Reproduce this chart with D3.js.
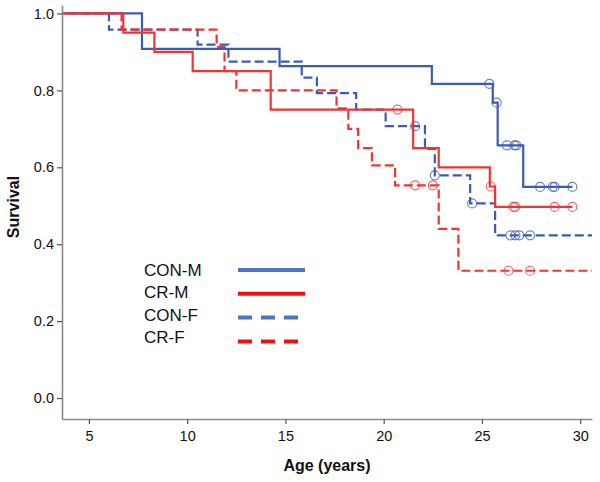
<!DOCTYPE html>
<html>
<head>
<meta charset="utf-8">
<script src="https://cdn.jsdelivr.net/npm/d3@7"></script>
<style>
  body { margin: 0; background: #fff; }
  svg { display: block; font-family: "Liberation Sans", Arial, sans-serif; }
</style>
</head>
<body>
<svg id="chart" width="600" height="482"></svg>
<script>
// Kaplan-Meier steps: event times and survival after each step
const conM_time = [0, 7.7, 14.7, 22.45, 25.55, 25.8, 27.1];
const conM_surv = [1.0, 0.908, 0.863, 0.817, 0.768, 0.657, 0.549];
const conM_end = 29.6;
const conM_censor = [25.38, 25.75, 26.27, 26.65, 26.75, 27.96, 28.6, 28.7, 29.6];

const crM_time = [0, 6.75, 8.33, 10.28, 14.25, 21.5, 22.8, 25.4, 25.67];
const crM_surv = [1.0, 0.95, 0.90, 0.85, 0.75, 0.65, 0.60, 0.55, 0.497];
const crM_end = 29.6;
const crM_censor = [20.7, 25.45, 26.6, 26.7, 28.7, 29.6];

const conF_time = [0, 6.02, 10.53, 12.1, 15.83, 16.6, 18.6, 20.1, 22.1, 22.6, 24.4, 25.67];
const conF_surv = [1.0, 0.958, 0.919, 0.875, 0.833, 0.793, 0.75, 0.707, 0.648, 0.579, 0.506, 0.423];
const conF_end = 31;
const conF_censor = [21.6, 22.6, 24.5, 26.45, 26.7, 26.9, 27.45];

const crF_time = [0, 6.66, 11.5, 11.9, 12.5, 17.6, 18.2, 18.7, 19.4, 20.58, 22.8, 23.8];
const crF_surv = [1.0, 0.958, 0.913, 0.85, 0.80, 0.753, 0.70, 0.65, 0.605, 0.553, 0.44, 0.331];
const crF_end = 31;
const crF_censor = [21.6, 22.5, 26.35, 27.45];

const legendLabels = ["CON-M", "CR-M", "CON-F", "CR-F"];
const xTicks = [5, 10, 15, 20, 25, 30];
const yTicks = [0.0, 0.2, 0.4, 0.6, 0.8, 1.0];

const BLUE = "#3a5cb6";
const RED = "#ee3535";

const series = [
  {name: legendLabels[0], time: conM_time, surv: conM_surv, end: conM_end, censor: conM_censor, color: BLUE, dash: null, legColor: "#4a78c0"},
  {name: legendLabels[1], time: crM_time, surv: crM_surv, end: crM_end, censor: crM_censor, color: RED, dash: null, legColor: "#f01010"},
  {name: legendLabels[2], time: conF_time, surv: conF_surv, end: conF_end, censor: conF_censor, color: BLUE, dash: "9,4", legColor: "#4a78c0"},
  {name: legendLabels[3], time: crF_time, surv: crF_surv, end: crF_end, censor: crF_censor, color: RED, dash: "9,4", legColor: "#f01010"}
];

const margin = {top: 5, right: 8, bottom: 63, left: 62};
const width = 600, height = 482;

const svg = d3.select("#chart");

const x = d3.scaleLinear()
  .domain([3.63, 30.6])
  .range([margin.left, width - margin.right]);

const y = d3.scaleLinear()
  .domain([-0.0545, 1.022])
  .range([height - margin.bottom, margin.top]);

svg.append("defs").append("clipPath").attr("id", "plot")
  .append("rect")
  .attr("x", margin.left).attr("y", 0)
  .attr("width", width - margin.left - margin.right)
  .attr("height", height - margin.bottom);

// step curves
const line = d3.line()
  .x(d => x(d[0]))
  .y(d => y(d[1]))
  .curve(d3.curveStepAfter);

function stepAt(s, t) {
  let v = s.surv[0];
  s.time.forEach((tt, i) => { if (tt <= t) v = s.surv[i]; });
  return v;
}

const curves = svg.append("g").attr("clip-path", "url(#plot)");

// draw dashed first, solid on top
[2, 3, 0, 1].forEach(k => {
  const s = series[k];
  const pts = s.time.map((t, i) => [t, s.surv[i]]);
  pts.push([s.end, s.surv[s.surv.length - 1]]);
  curves.append("path")
    .datum(pts)
    .attr("fill", "none")
    .attr("stroke", s.color)
    .attr("stroke-width", 2.2)
    .attr("stroke-dasharray", s.dash)
    .attr("d", line);

  curves.append("g")
    .selectAll("circle")
    .data(s.censor)
    .join("circle")
      .attr("cx", d => x(d))
      .attr("cy", d => y(stepAt(s, d)))
      .attr("r", 4.5)
      .attr("fill", "none")
      .attr("stroke", s.color)
      .attr("stroke-opacity", 0.75)
      .attr("stroke-width", 1.2);
});

// axes
const xAxis = svg.append("g")
  .attr("transform", `translate(0,${height - margin.bottom})`)
  .call(d3.axisBottom(x).tickValues(xTicks).tickSize(5).tickSizeOuter(0).tickFormat(d3.format("d")));

const yAxis = svg.append("g")
  .attr("transform", `translate(${margin.left},0)`)
  .call(d3.axisLeft(y).tickValues(yTicks).tickSize(5).tickSizeOuter(0).tickFormat(d3.format(".1f")));

[xAxis, yAxis].forEach(g => {
  g.select(".domain").attr("stroke", "#8a8a8a").attr("stroke-width", 1.6);
  g.selectAll(".tick line").attr("stroke", "#555").attr("stroke-width", 1.2);
  g.selectAll(".tick text")
    .attr("fill", "#111")
    .attr("font-size", 14.5)
    .attr("font-family", "Liberation Sans, Arial, sans-serif");
});
xAxis.selectAll(".tick text").attr("dy", "0.95em");
yAxis.selectAll(".tick text").attr("x", -8);

// axis titles
svg.append("text")
  .attr("x", 327)
  .attr("y", 471)
  .attr("text-anchor", "middle")
  .attr("font-weight", "bold")
  .attr("font-size", 16)
  .attr("fill", "#111")
  .text("Age (years)");

svg.append("text")
  .attr("transform", "translate(19,207) rotate(-90)")
  .attr("text-anchor", "middle")
  .attr("font-weight", "bold")
  .attr("font-size", 16)
  .attr("fill", "#111")
  .text("Survival");

// legend
const leg = svg.append("g");
series.forEach((s, i) => {
  const ly = 270 + i * 22.5;
  leg.append("text")
    .attr("x", 144)
    .attr("y", ly)
    .attr("dy", "0.35em")
    .attr("font-size", 17)
    .attr("fill", "#111")
    .text(s.name);
  leg.append("line")
    .attr("x1", 238).attr("x2", 305)
    .attr("y1", ly + i * 1.3).attr("y2", ly + i * 1.3)
    .attr("stroke", s.legColor)
    .attr("stroke-width", 4)
    .attr("stroke-dasharray", s.dash ? "14,9" : null);
});
</script>
</body>
</html>
